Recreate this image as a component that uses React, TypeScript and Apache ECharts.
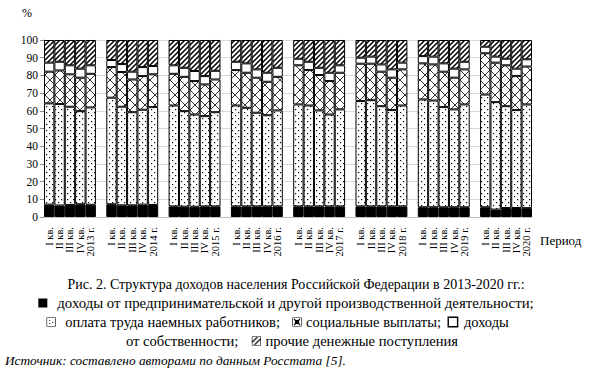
import React, { useEffect, useRef } from "react";
import * as echarts from "echarts";

const years = ["2013", "2014", "2015", "2016", "2017", "2018", "2019", "2020"];
const quarterLabels = ["I кв.", "II кв.", "III кв.", "IV кв."];
const yTicks = { min: 0, max: 100, interval: 10 };

// shares, % (per year: I, II, III, IV quarters, whole year)
const business = [
  7.0, 6.5, 6.8, 7.2, 6.9,
  7.2, 6.6, 6.6, 7.0, 6.8,
  6.0, 5.8, 5.8, 6.0, 6.0,
  6.0, 6.0, 6.0, 6.0, 6.0,
  6.0, 6.0, 6.0, 6.0, 6.0,
  6.0, 6.0, 6.0, 6.0, 6.0,
  5.5, 5.5, 5.5, 5.5, 5.5,
  5.5, 4.2, 5.1, 5.1, 5.0,
];
const wages = [
  57.2, 57.3, 55.5, 52.6, 55.0,
  60.2, 55.7, 52.6, 53.6, 55.3,
  57.0, 54.0, 52.1, 51.0, 53.2,
  57.0, 55.7, 52.9, 51.5, 54.2,
  57.6, 57.0, 54.2, 51.9, 54.8,
  59.5, 60.0, 56.6, 54.4, 57.0,
  60.9, 60.3, 56.6, 55.3, 58.1,
  63.7, 60.7, 57.5, 55.3, 58.6,
];
const social = [
  17.9, 19.0, 18.3, 18.9, 19.0,
  17.3, 19.6, 18.5, 19.0, 18.5,
  17.9, 19.4, 18.9, 17.9, 18.5,
  20.0, 19.8, 19.8, 18.9, 19.0,
  22.1, 20.0, 20.0, 18.9, 20.7,
  21.1, 20.6, 19.5, 18.3, 20.4,
  20.4, 20.4, 20.0, 17.9, 19.8,
  23.3, 22.3, 23.1, 19.2, 21.4,
];
const property = [
  5.1, 4.9, 5.1, 5.1, 4.8,
  4.0, 4.5, 4.4, 5.1, 4.7,
  4.8, 5.1, 5.7, 4.7, 4.9,
  4.7, 5.3, 4.7, 5.1, 5.1,
  3.7, 4.7, 4.1, 4.7, 4.2,
  3.4, 4.0, 4.1, 4.7, 3.8,
  4.1, 4.4, 4.7, 5.1, 4.3,
  3.7, 3.4, 3.7, 4.2, 4.1,
];
const other = [
  12.8, 12.3, 14.3, 16.2, 14.3,
  11.3, 13.6, 17.9, 15.3, 14.7,
  14.3, 15.7, 17.5, 20.4, 17.4,
  12.3, 13.2, 16.6, 18.5, 15.7,
  10.6, 12.3, 15.7, 18.5, 14.3,
  10.0, 9.4, 13.8, 16.6, 12.8,
  9.1, 9.4, 13.2, 16.2, 12.3,
  3.8, 9.4, 10.6, 16.2, 10.9,
];

const captionTitle = "Рис. 2. Структура доходов населения Российской Федерации в 2013-2020 гг.:";
const legendBusiness = "доходы от предпринимательской и другой производственной деятельности;";
const legendWages = "оплата труда наемных работников;";
const legendSocial = "социальные выплаты;";
const legendPropertyA = "доходы";
const legendPropertyB = "от собственности;";
const legendOther = "прочие денежные поступления";
const sourceText = "Источник: составлено авторами по данным Росстата [5].";

const FONT = "'Liberation Serif', 'Times New Roman', serif";

function tile(w: number, h: number, draw: (c: CanvasRenderingContext2D) => void) {
  const c = document.createElement("canvas");
  c.width = w;
  c.height = h;
  const ctx = c.getContext("2d")!;
  ctx.fillStyle = "#fff";
  ctx.fillRect(0, 0, w, h);
  draw(ctx);
  return c;
}

function dotTile() {
  return tile(6, 6, (ctx) => {
    ctx.fillStyle = "#000";
    ctx.fillRect(1, 1, 1.2, 1.2);
    ctx.fillRect(4, 4, 1.2, 1.2);
  });
}
function crossTile() {
  return tile(10, 10, (ctx) => {
    ctx.strokeStyle = "#333";
    ctx.lineWidth = 1;
    ctx.beginPath();
    ctx.moveTo(0, 0);
    ctx.lineTo(10, 10);
    ctx.moveTo(10, 0);
    ctx.lineTo(0, 10);
    ctx.stroke();
  });
}
function hatchTile() {
  return tile(5, 5, (ctx) => {
    ctx.strokeStyle = "#000";
    ctx.lineWidth = 1.5;
    ctx.beginPath();
    ctx.moveTo(-1, 6);
    ctx.lineTo(6, -1);
    ctx.moveTo(-2, 2);
    ctx.lineTo(2, -2);
    ctx.moveTo(3, 7);
    ctx.lineTo(7, 3);
    ctx.stroke();
  });
}

function pattern(c: HTMLCanvasElement) {
  return { image: c, repeat: "repeat", imageWidth: c.width, imageHeight: c.height } as any;
}

export default function App() {
  const ref = useRef<HTMLDivElement>(null);
  useEffect(() => {
    if (!ref.current) return;
    const chart = echarts.init(ref.current, null, { renderer: "svg" });

    const categories: string[] = [];
    const idx: number[] = [];
    years.forEach((y, yi) => {
      for (let k = 0; k < 5; k++) {
        idx.push(categories.length);
        categories.push(k < 4 ? quarterLabels[k] : `${y} г.`);
      }
      if (yi < years.length - 1) categories.push("");
    });
    const build = (arr: number[]) => {
      const out: any[] = categories.map(() => "-");
      arr.forEach((v, i) => (out[idx[i]] = v));
      return out;
    };

    const dot = dotTile();
    const cross = crossTile();
    const hatch = hatchTile();

    const iconDot = tile(8, 8, (ctx) => {
      ctx.fillStyle = "#111";
      ctx.fillRect(2, 2, 1, 1);
      ctx.fillRect(5, 4, 1, 1);
      ctx.fillRect(2, 5, 1, 1);
    });
    const iconCross = tile(8, 8, (ctx) => {
      ctx.strokeStyle = "#000";
      ctx.lineWidth = 1.1;
      ctx.beginPath();
      ctx.moveTo(1, 1);
      ctx.lineTo(7, 7);
      ctx.moveTo(7, 1);
      ctx.lineTo(1, 7);
      ctx.stroke();
      ctx.strokeRect(2.5, 2.5, 3, 3);
    });
    const iconHatch = tile(8, 8, (ctx) => {
      ctx.strokeStyle = "#000";
      ctx.lineWidth = 1.2;
      ctx.beginPath();
      ctx.moveTo(0, 5);
      ctx.lineTo(5, 0);
      ctx.moveTo(2, 8);
      ctx.lineTo(8, 2);
      ctx.stroke();
    });

    const border = { borderColor: "#000", borderWidth: 1 };
    const mkSeries = (name: string, data: number[], color: any) => ({
      name,
      type: "bar",
      stack: "total",
      barCategoryGap: "0%",
      data: build(data),
      itemStyle: { color, ...border },
      emphasis: { disabled: true },
    });

    const sp = (w: number) => ({ width: w, height: 8 });
    const rich: any = {
      blk: { width: 9, height: 9, backgroundColor: "#000" },
      dot: { width: 8, height: 8, backgroundColor: { image: iconDot }, borderColor: "#000", borderWidth: 1.2 },
      crs: { width: 8, height: 8, backgroundColor: { image: iconCross }, borderColor: "#000", borderWidth: 1.2 },
      wht: { width: 8, height: 8, backgroundColor: "#fff", borderColor: "#000", borderWidth: 1.4 },
      hat: { width: 8, height: 8, backgroundColor: { image: iconHatch }, borderColor: "#000", borderWidth: 1.2 },
      s5: sp(5),
      s7: sp(7),
      s8: sp(8),
      s10: sp(10),
      s13: sp(13),
      s14: sp(14),
    };
    const capStyle = (text: string, fontSize: number) => ({
      text,
      fontFamily: FONT,
      fontSize,
      fill: "#000",
      textAlign: "center",
      textVerticalAlign: "middle",
      rich,
    });

    chart.setOption({
      animation: false,
      grid: { left: 44, right: 58, top: 40, bottom: 154, containLabel: false },
      xAxis: {
        type: "category",
        data: categories,
        axisLine: { show: true, lineStyle: { color: "#bfbfbf" } },
        axisTick: { show: false },
        axisLabel: {
          interval: 0,
          rotate: 90,
          fontFamily: FONT,
          fontSize: 10.5,
          color: "#000",
          margin: 10,
        },
      },
      yAxis: {
        type: "value",
        min: yTicks.min,
        max: yTicks.max,
        interval: yTicks.interval,
        axisLine: { show: true, lineStyle: { color: "#8c8c8c" } },
        axisTick: { show: true, length: 4, lineStyle: { color: "#8c8c8c" } },
        splitLine: { show: true, lineStyle: { color: "#d9d9d9" } },
        axisLabel: { fontFamily: FONT, fontSize: 11.5, color: "#000", margin: 6 },
      },
      series: [
        mkSeries("доходы от предпринимательской деятельности", business, "#000"),
        mkSeries("оплата труда наемных работников", wages, pattern(dot)),
        mkSeries("социальные выплаты", social, pattern(cross)),
        mkSeries("доходы от собственности", property, "#fff"),
        mkSeries("прочие денежные поступления", other, pattern(hatch)),
      ],
      graphic: [
        { type: "text", x: 22, y: 7, style: { text: "%", fontFamily: FONT, fontSize: 12, fill: "#000" } },
        { type: "text", x: 540, y: 234, style: { text: "Период", fontFamily: FONT, fontSize: 13, fill: "#000" } },
        { type: "text", x: 296, y: 284, style: capStyle(captionTitle, 14) },
        { type: "text", x: 286, y: 303, style: capStyle(`{blk| }{s10| }${legendBusiness}`, 14.8) },
        {
          type: "text",
          x: 278,
          y: 322,
          style: capStyle(
            `{dot| }{s10| }${legendWages}{s13| }{crs| }{s5| }${legendSocial}{s8| }{wht| }{s7| }${legendPropertyA}`,
            14.5
          ),
        },
        {
          type: "text",
          x: 292,
          y: 341,
          style: capStyle(`${legendPropertyB}{s14| }{hat| }{s5| }${legendOther}`, 14.6),
        },
        {
          type: "text",
          x: 5,
          y: 360,
          style: {
            text: sourceText,
            fontFamily: FONT,
            fontSize: 13.3,
            fontStyle: "italic",
            fill: "#000",
            textAlign: "left",
            textVerticalAlign: "middle",
          },
        },
      ],
    });
    return () => chart.dispose();
  }, []);
  return (
    <div
      ref={ref}
      style={{ position: "absolute", left: 0, top: 0, width: 590, height: 371, background: "#fff" }}
    />
  );
}
